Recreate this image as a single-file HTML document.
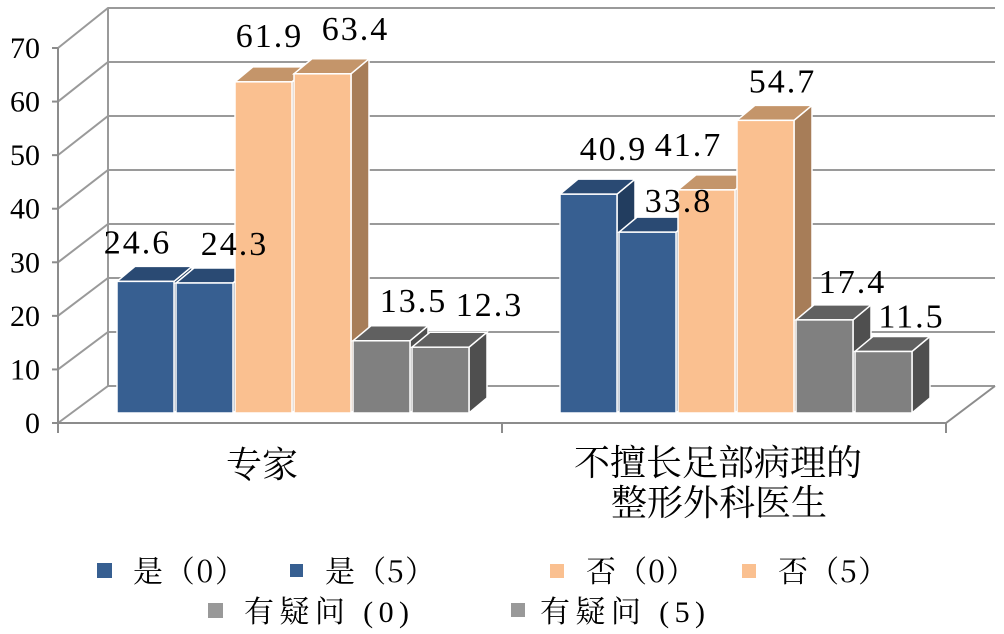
<!DOCTYPE html>
<html><head><meta charset="utf-8"><style>
html,body{margin:0;padding:0;background:#fff;}
svg{display:block;}
text{font-family:"Liberation Serif","Noto Serif CJK SC",serif;fill:#000;}
.cjk{font-family:"Noto Serif CJK SC","Liberation Serif",serif;}
</style></head><body>
<svg id="chart" width="1004" height="634" viewBox="0 0 1004 634" xmlns="http://www.w3.org/2000/svg">
<g id="grid"></g>
<g id="bars"></g>
<g id="labels"></g>
<g id="axis"></g>
<text x="262" y="477" font-size="36" text-anchor="middle">专家</text>
<text x="718" y="475" font-size="36" text-anchor="middle">不擅长足部病理的</text>
<text x="719" y="515" font-size="36" text-anchor="middle">整形外科医生</text>
<g font-size="30">
  <g><rect x="97" y="563" width="15" height="15" fill="#375F91"/><text class="cjk" x="133" y="582" textLength="112">是（0）</text></g>
  <g><rect x="290" y="564" width="13" height="13" fill="#375F91"/><text class="cjk" x="325" y="582" textLength="110">是（5）</text></g>
  <g><rect x="550" y="564" width="14" height="14" fill="#FAC090"/><text class="cjk" x="586" y="582" textLength="110">否（0）</text></g>
  <g><rect x="742" y="564" width="14" height="14" fill="#FAC090"/><text class="cjk" x="778" y="582" textLength="110">否（5）</text></g>
  <g><rect x="208" y="603" width="15" height="15" fill="#999"/><text x="244" y="622" textLength="165">有疑问 (0)</text></g>
  <g><rect x="511" y="603" width="14" height="14" fill="#999"/><text x="540" y="622" textLength="165">有疑问 (5)</text></g>
</g>
</svg>
<script>
const categories = ["专家", "不擅长足部病理的整形外科医生"];
const seriesNames = ["是（0）", "是（5）", "否（0）", "否（5）", "有疑问 (0)", "有疑问 (5)"];
const yes0 = [24.6, 40.9];
const yes5 = [24.3, 33.8];
const no0 = [61.9, 41.7];
const no5 = [63.4, 54.7];
const doubt0 = [13.5, 17.4];
const doubt5 = [12.3, 11.5];
const yTicks = [0, 10, 20, 30, 40, 50, 60, 70];

const NS = "http://www.w3.org/2000/svg";
const series = [yes0, yes5, no0, no5, doubt0, doubt5];
const colors = [
  ["#375F91", "#2A4A73", "#223D5F"], ["#375F91", "#2A4A73", "#223D5F"],
  ["#FAC090", "#C4956A", "#A77D58"], ["#FAC090", "#C4956A", "#A77D58"],
  ["#808080", "#606060", "#4F4F4F"], ["#808080", "#606060", "#4F4F4F"]
];
const labelDx = [[-8, 25], [30, 31], [6, -18], [33, 17], [32, 28], [49, 28]];
const labelDy = [[0, -6], [0, 8], [-7, -6], [-6, 0], [-1, 1], [-3, 4]];
function mk(tag, attrs, parent){const e=document.createElementNS(NS,tag);for(const k in attrs)e.setAttribute(k,attrs[k]);parent.appendChild(e);return e;}
const frontX = 58, backDX = 50;
function yFront(v){return 423 - v * (375/70);}
function yBack(v){return 386 - v * 5.4;}
function yBar(v){return 413 - v * 5.35;}
function catX(c){return 117 + c * 443;}
const grid = document.getElementById('grid');
const axis = document.getElementById('axis');
yTicks.forEach(t=>{
  const yf = yFront(t), yb = yBack(t);
  const p = mk('polyline',{points:`${frontX},${yf} ${frontX+backDX},${yb} 995,${yb}`,fill:'none',stroke:'#9a9a9a','stroke-width':2},grid);
  
  
  const tk = mk('line',{x1:frontX-6,y1:yf,x2:frontX,y2:yf,stroke:'#8c8c8c','stroke-width':2},axis);
  
  
  const lb = mk('text',{x:40,y:yf+10,'font-size':30,'text-anchor':'end'},axis);
  lb.textContent = t;
  
  
});
const bw = mk('line',{x1:frontX+backDX,y1:yBack(70),x2:frontX+backDX,y2:yBack(0),stroke:'#9a9a9a','stroke-width':2},grid);


const fl = mk('polyline',{points:`${frontX},423 946,423 995,386`,fill:'none',stroke:'#8c8c8c','stroke-width':2},axis);


const ya = mk('line',{x1:frontX,y1:yFront(70),x2:frontX,y2:433,stroke:'#8c8c8c','stroke-width':2},axis);


[frontX, 502, 946].forEach((x,i)=>{
  const t = mk('line',{x1:x,y1:423,x2:x,y2:433,stroke:'#8c8c8c','stroke-width':2},axis);
  
  
});
const barsG = document.getElementById('bars');
const labelsG = document.getElementById('labels');
const W = 57, STEP = 59, DX = 18, DY = -15;
categories.forEach((cat,c)=>{
  series.forEach((s,i)=>{
    const v = s[c];
    const x = catX(c) + i*STEP, y = yBar(v), b = yBar(0);
    const g = mk('g',{},barsG);
    
    
    mk('polygon',{points:`${x+W},${y} ${x+W+DX},${y+DY} ${x+W+DX},${b+DY} ${x+W},${b}`,fill:colors[i][2],stroke:'#fff','stroke-width':1.5},g);
    mk('polygon',{points:`${x},${y} ${x+DX},${y+DY} ${x+W+DX},${y+DY} ${x+W},${y}`,fill:colors[i][1],stroke:'#fff','stroke-width':1.5},g);
    mk('rect',{x:x,y:y,width:W,height:b-y,fill:colors[i][0],stroke:'#fff','stroke-width':1.5},g);
  });
});
categories.forEach((cat,c)=>{
  series.forEach((s,i)=>{
    const v = s[c];
    const x = catX(c) + i*STEP + W/2 + labelDx[i][c];
    const y = yBar(v) - 28 + labelDy[i][c];
    const t = mk('text',{x:x,y:y,'font-size':34,'text-anchor':'middle','letter-spacing':2},labelsG);
    t.textContent = v.toFixed(1);
    
    
  });
});
</script>
</body></html>
